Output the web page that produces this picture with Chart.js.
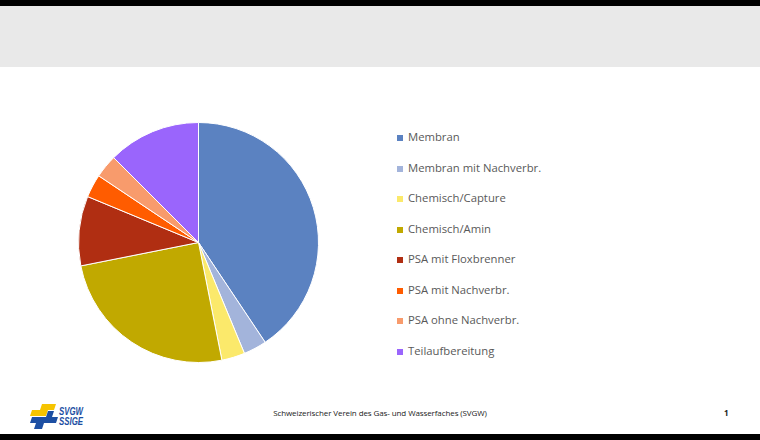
<!DOCTYPE html>
<html><head><meta charset="utf-8">
<script src="https://cdn.jsdelivr.net/npm/chart.js@4.4.0/dist/chart.umd.min.js"></script>
<style>
html,body{margin:0;padding:0;background:#fff;}
#slide{position:relative;width:760px;height:440px;overflow:hidden;background:#fff;font-family:"Open Sans","Noto Sans",sans-serif;}
#topbar{position:absolute;left:0;top:0;width:760px;height:6px;background:#000;}
#band{position:absolute;left:0;top:6px;width:760px;height:61px;background:#e9e9e9;}
#botbar{position:absolute;left:0;top:434px;width:760px;height:6px;background:#000;}
#pieBox{position:absolute;left:77px;top:121px;width:243px;height:243px;}
#legend{position:absolute;left:397px;top:0;}
.li{position:absolute;left:0;white-space:nowrap;font-size:11.3px;color:#595959;line-height:14px;height:14px;}
.li span.sq{position:absolute;left:0;top:4px;width:6px;height:6px;}
.li span.tx{position:absolute;left:11px;top:-1px;}
#foot{position:absolute;left:0;width:760px;top:407px;text-align:center;font-size:8px;color:#222;letter-spacing:-0.1px;}
#pg{position:absolute;left:724px;top:407px;font-size:8px;font-weight:bold;color:#222;}
#logo{position:absolute;left:28px;top:402px;}
</style></head>
<body>
<div id="slide">
  <div id="topbar"></div>
  <div id="band"></div>
  <div id="pieBox"><canvas id="c" width="243" height="243"></canvas></div>
  <div id="legend"></div>
  <svg id="logo" width="66" height="28" viewBox="0 0 66 28">
    <path d="M4 8 L12 8 L14 2 L28 2 L26 8 L20 8 L18 14 L2 14 Z" fill="#f6c400"/>
    <path d="M20 9 L26 9 L24 15 L30 15 L28 21 L16 21 L14 27 L6 27 L8 21 L2 21 L4 15 L18 15 Z" fill="#1d4fa3"/>
    <text x="31" y="13" font-family="Liberation Sans, sans-serif" font-size="10" font-weight="bold" font-style="italic" fill="#1d4fa3" textLength="24" lengthAdjust="spacingAndGlyphs">SVGW</text>
    <text x="31" y="23" font-family="Liberation Sans, sans-serif" font-size="10" font-weight="bold" font-style="italic" fill="#1d4fa3" textLength="24" lengthAdjust="spacingAndGlyphs">SSIGE</text>
  </svg>
  <div id="foot">Schweizerischer Verein des Gas- und Wasserfaches (SVGW)</div>
  <div id="pg">1</div>
  <div id="botbar"></div>
</div>
<script>
const categories = ["Membran","Membran mit Nachverbr.","Chemisch/Capture","Chemisch/Amin","PSA mit Floxbrenner","PSA mit Nachverbr.","PSA ohne Nachverbr.","Teilaufbereitung"];
const values = [13,1,1,8,3,1,1,4];
const colors = ["#5b82c1","#a3b4db","#fbe96b","#c1a900","#b02e12","#ff5c00","#f89b6c","#9a65fc"];

const lg = document.getElementById('legend');
categories.forEach((name,i)=>{
  const d=document.createElement('div');
  d.className='li';
  d.style.top=(131+i*30.5)+'px';
  d.innerHTML='<span class="sq" style="background:'+colors[i]+'"></span><span class="tx"></span>';
  d.querySelector('.tx').textContent=name;
  lg.appendChild(d);
});

new Chart(document.getElementById('c'),{
  type:'pie',
  data:{labels:categories,datasets:[{data:values,backgroundColor:colors,borderColor:'#ffffff',borderWidth:1}]},
  options:{
    responsive:false,animation:false,
    layout:{padding:1},
    plugins:{legend:{display:false},tooltip:{enabled:false}}
  }
});
</script>
</body></html>
